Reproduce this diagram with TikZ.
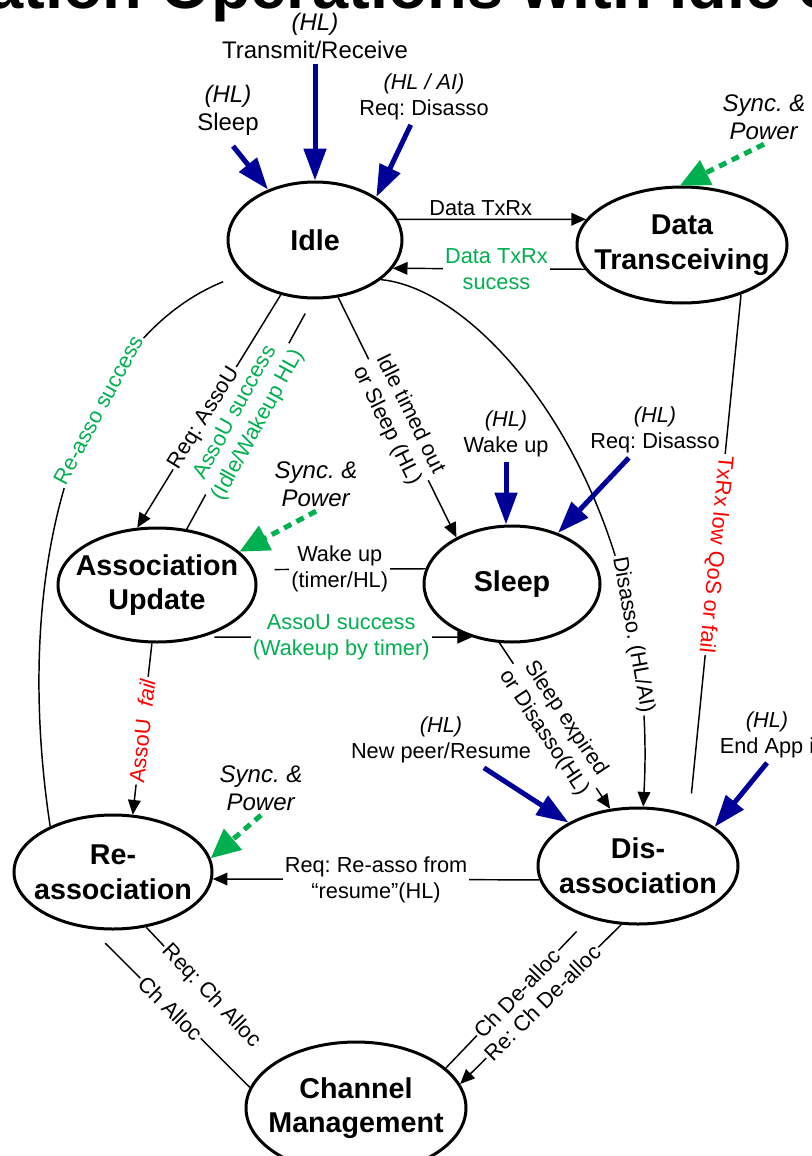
\documentclass[tikz,border=0pt]{standalone}
\usepackage{fontspec}
\setmainfont{Liberation Sans}
\usetikzlibrary{positioning,arrows.meta,shapes.geometric}
\frenchspacing

\definecolor{hlblue}{RGB}{0,0,153}
\definecolor{okgreen}{RGB}{0,176,80}
\definecolor{failred}{RGB}{255,0,0}

\newcommand{\statefont}{\fontsize{21.5}{26}\selectfont\bfseries}
\newcommand{\lblfont}{\fontsize{16.3}{19.5}\selectfont}
\newcommand{\biglblfont}{\fontsize{18}{21}\selectfont}

\begin{document}
\begin{tikzpicture}[x=0.75pt, y=-0.75pt,
  > = {Triangle[length=11pt, width=9.5pt]},
  state/.style = {draw, ellipse, line width=2.25pt, inner xsep=-14pt, inner ysep=0pt, align=center, font=\statefont},
  conn/.style = {line width=1.1pt},
  elbl/.style = {font=\lblfont, fill=white, inner sep=1.5pt, align=center},
  toplbl/.style = {font=\lblfont, align=center},
  bigtoplbl/.style = {font=\biglblfont, align=center},
  hlarrow/.style = {hlblue, line width=3.75pt, -{Triangle[length=24pt, width=16.5pt]}},
  syncarrow/.style = {okgreen, line width=3.75pt, dash pattern=on 6pt off 4.5pt, -{Triangle[length=22pt, width=20pt]}}]
\path[use as bounding box, fill=white] (0,0) rectangle (811,1156);

\node (title) [anchor=base west, inner sep=0pt, font=\fontsize{48.75}{52}\selectfont\bfseries] at (-13,9) {ation Operations with Idle S};

\node (idle) [state, minimum width=130.5pt, minimum height=87pt] at (315,240) {Idle};
\node (data) [state, minimum width=157.5pt, minimum height=87pt] at (682,245) {Data\\Transceiving};
\node (assocupd) [state, minimum width=148.5pt, minimum height=85.5pt] at (157,585) {Association\\Update};
\node (sleep) [state, minimum width=132pt, minimum height=87pt] at (512,584) {Sleep};
\node (reassoc) [state, minimum width=148.5pt, minimum height=85.5pt] at (113,872) {Re-\\association};
\node (disassoc) [state, minimum width=150pt, minimum height=87pt] at (638,866) {Dis-\\association};
\node (chanmgmt) [state, minimum width=165pt, minimum height=99pt] at (356,1108) {Channel\\Management};

\node (txreq) [bigtoplbl] at (315,36) {\textit{(HL)}\\Transmit/Receive};
\node (sleepreq) [bigtoplbl] at (228,110) {\textit{(HL)}\\Sleep};
\node (idledisreq) [toplbl] at (424,97) {\textit{(HL / AI)}\\Req: Disasso};
\node (syncdata) [bigtoplbl] at (764,117) {\textit{Sync. \&}\\\textit{Power}};
\node (wakereq) [toplbl] at (506,434) {\textit{(HL)}\\Wake up};
\node (sleepdisreq) [toplbl] at (655,430) {\textit{(HL)}\\Req: Disasso};
\node (syncassoc) [bigtoplbl] at (316,484) {\textit{Sync. \&}\\\textit{Power}};
\node (syncreassoc) [bigtoplbl] at (261,788) {\textit{Sync. \&}\\\textit{Power}};
\node (peerreq) [toplbl] at (441,740) {\textit{(HL)}\\New peer/Resume};
\node (endappreq) [toplbl] at (767,735) {\textit{(HL)}\\End App i};

\draw[conn, ->] (idle.14) -- node[above, font=\lblfont, pos=0.44, inner sep=2pt] {Data TxRx} (data.165);
\draw[conn, ->] (data.194) -- node[elbl, text=okgreen, pos=0.46] {Data TxRx\\sucess} (idle.-20);
\draw[conn, ->] (idle.238) -- node[elbl, sloped, pos=0.53] {Req: AssoU} (assocupd.109);
\draw[conn, shorten >=12pt] (assocupd.62) -- node[elbl, sloped, text=okgreen, pos=0.48] {AssoU success\\(Idle/Wakeup HL)} (idle.268);
\draw[conn, ->] (idle.292) -- node[elbl, sloped, pos=0.51] {Idle timed out\\or Sleep (HL)} (sleep.140);
\draw[conn, ->] (idle.-31) .. controls (490,290) and (660,500) .. (disassoc.85) node[elbl, sloped, pos=0.8] {Disasso. (HL/AI)};
\draw[conn, shorten >=16pt] (data.-40) -- node[elbl, sloped, allow upside down, text=failred, pos=0.5] {TxRx low QoS or fail} (disassoc.45);
\draw[conn, shorten >=15.5pt] (sleep.170) -- node[elbl, pos=0.5] {Wake up\\(timer/HL)} (assocupd.9);
\draw[conn, ->, shorten <=9pt] (assocupd.-49) -- node[elbl, text=okgreen, pos=0.515] {AssoU success\\(Wakeup by timer)} (sleep.233);
\draw[conn, ->] (sleep.258) -- node[elbl, sloped, pos=0.5] {Sleep expired\\or Disasso(HL)} (disassoc.116);
\draw[conn, ->] (assocupd.265) -- node[elbl, sloped, text=failred, pos=0.51] {AssoU~~\textit{fail}} (reassoc.71);
\draw[conn, shorten >=15.5pt] (reassoc.144) .. controls (10,560) and (80,340) .. (idle.205) node[elbl, sloped, text=okgreen, pos=0.62] {Re-asso success};
\draw[conn, ->] (disassoc.188) -- node[elbl, pos=0.5] {Req: Re-asso from\\“resume”(HL)} (reassoc.-4);
\draw[conn, shorten >=17pt] (reassoc.-59) -- node[elbl, sloped, pos=0.51] {Req: Ch Alloc} (chanmgmt.151);
\draw[conn, shorten >=15pt] (chanmgmt.169) -- node[elbl, sloped, pos=0.5] {Ch Alloc} (reassoc.249);
\draw[conn, shorten <=13.8pt] (disassoc.227) -- node[elbl, sloped, pos=0.5] {Ch De-alloc} (chanmgmt.24);
\draw[conn, ->] (disassoc.254) -- node[elbl, sloped, pos=0.49] {Re: Ch De-alloc} (chanmgmt.13);

\draw[hlarrow] (txreq) -- (idle);
\draw[hlarrow, shorten <=6pt] (sleepreq.south) -- (idle.133);
\draw[hlarrow] (idledisreq) -- (idle.35);
\draw[syncarrow] (syncdata.south) -- (data.92);
\draw[hlarrow] (wakereq.south) -- (wakereq.south |- sleep.north);
\draw[hlarrow] (sleepdisreq) -- (sleep.48);
\draw[syncarrow] (syncassoc.south) -- (assocupd.22);
\draw[syncarrow] (syncreassoc.south) -- (reassoc.8);
\draw[hlarrow] (peerreq) -- (disassoc.148);
\draw[hlarrow] (endappreq.south) -- (disassoc.27);
\end{tikzpicture}
\end{document}
